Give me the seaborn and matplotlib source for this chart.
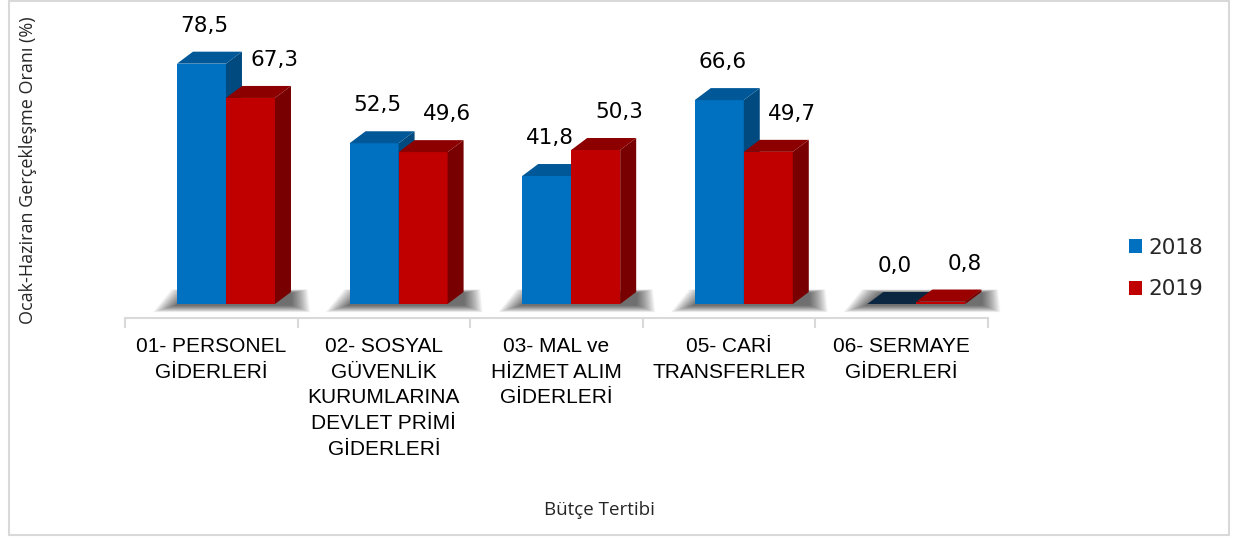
import matplotlib
matplotlib.use("Agg")
import matplotlib.pyplot as plt
from matplotlib.patches import Polygon, Patch, Rectangle
import seaborn as sns
import pandas as pd

# Bütçe tertibi kategorileri ve yıllara göre gerçekleşme oranları (%)
categories = [
    "01- PERSONEL\nGİDERLERİ",
    "02- SOSYAL\nGÜVENLİK\nKURUMLARINA\nDEVLET PRİMİ\nGİDERLERİ",
    "03- MAL ve\nHİZMET ALIM\nGİDERLERİ",
    "05- CARİ\nTRANSFERLER",
    "06- SERMAYE\nGİDERLERİ",
]
years = ["2018", "2019"]
values_2018 = [78.5, 52.5, 41.8, 66.6, 0.0]
values_2019 = [67.3, 49.6, 50.3, 49.7, 0.8]

df = pd.DataFrame({
    "kategori": categories * 2,
    "yil": [years[0]] * len(categories) + [years[1]] * len(categories),
    "oran": values_2018 + values_2019,
})

front = {"2018": "#0070C0", "2019": "#C00000"}
side = {"2018": "#004A80", "2019": "#780000"}
top = {"2018": "#005898", "2019": "#8C0000"}

sns.set_theme(style="white")
plt.rcParams["font.family"] = ["Liberation Sans", "DejaVu Sans"]

W, H = 1235, 540
fig = plt.figure(figsize=(W / 100, H / 100), dpi=100)
fig.patch.set_facecolor("white")

ax_left, ax_right, ax_bot, ax_top = 125, 988, 318, 30
ax = fig.add_axes([ax_left / W, 1 - ax_bot / H, (ax_right - ax_left) / W, (ax_bot - ax_top) / H])

xlim = (-0.585, 4.415)
ylim = (-4.575, 89.5)

sns.barplot(data=df, x="kategori", y="oran", hue="yil", palette=[front[y] for y in years],
            width=0.568, saturation=1, linewidth=0, ax=ax, legend=False, zorder=3)
ax.set_xlim(*xlim)
ax.set_ylim(*ylim)

# pixel -> data conversion for the 3D depth effect
px_x = (xlim[1] - xlim[0]) / (ax_right - ax_left)
px_y = (ylim[1] - ylim[0]) / (ax_bot - ax_top)
dx, dy = 16 * px_x, 12 * px_y

# soft floor shadow under each bar pair
pairs = list(zip(ax.containers[0].patches, ax.containers[1].patches))
for b1, b2 in pairs:
    x0 = b1.get_x()
    x1 = b2.get_x() + b2.get_width()
    n = 24
    for i in range(n):
        s = 24 * (1 - i / n)
        poly = [
            (x0 - s * px_x, 0 - (1 + s * 0.3) * px_y),
            (x1 + dx + s * 0.8 * px_x, 0 - (1 + s * 0.3) * px_y),
            (x1 + dx + s * 0.7 * px_x, dy - 1 * px_y + s * 0.15 * px_y),
            (x0 + dx - s * 0.9 * px_x, dy - 1 * px_y + s * 0.15 * px_y),
        ]
        ax.add_patch(Polygon(poly, closed=True, facecolor="black", alpha=0.03,
                             linewidth=0, zorder=1, clip_on=False))

# side and top faces, drawn series by series so the front series covers the back one
for ci, year in enumerate(years):
    for bar in ax.containers[ci].patches:
        bar.set_zorder(3 + ci * 3)
        x0 = bar.get_x()
        x1 = x0 + bar.get_width()
        h = bar.get_height()
        side_poly = [(x1, 0), (x1 + dx, dy), (x1 + dx, h + dy), (x1, h)]
        top_poly = [(x0, h), (x1, h), (x1 + dx, h + dy), (x0 + dx, h + dy)]
        ax.add_patch(Polygon(side_poly, closed=True, facecolor=side[year], linewidth=0,
                             zorder=3 + ci * 3 + 1, clip_on=False))
        top_col = top[year] if h > 1 else ("#0B2640" if year == "2018" else "#9A0000")
        ax.add_patch(Polygon(top_poly, closed=True, facecolor=top_col, linewidth=0,
                             zorder=3 + ci * 3 + 2, clip_on=False))

# value labels
label_dx = {"2018": 3, "2019": 24}
for ci, year in enumerate(years):
    for bar in ax.containers[ci].patches:
        h = bar.get_height()
        xc = bar.get_x() + bar.get_width() / 2
        ax.annotate(f"{h:.1f}".replace(".", ","), xy=(xc, h + dy), xytext=(label_dx[year], 26),
                    textcoords="offset pixels", ha="center", va="center",
                    fontsize=15.5, family=["DejaVu Sans"], color="black",
                    zorder=20, annotation_clip=False)

# axes styling
for sp in ["top", "right", "left"]:
    ax.spines[sp].set_visible(False)
ax.spines["bottom"].set_color("#D9D9D9")
ax.spines["bottom"].set_linewidth(1.5)
ax.set_yticks([])
ax.set_xticks([k - 0.585 for k in range(len(categories) + 1)])
ax.set_xticklabels([])
ax.tick_params(axis="x", which="major", direction="out", length=7, width=1.5,
               color="#D9D9D9", bottom=True)
ax.set_xticks([k - 0.085 for k in range(len(categories))], minor=True)
ax.set_xticklabels(categories, minor=True, fontsize=15, linespacing=1.45, color="black")
ax.tick_params(axis="x", which="minor", length=0, pad=13.5)
ax.set_xlabel("")
ax.set_ylabel("")

fig.text(28 / W, 1 - 170 / H, "Ocak-Haziran Gerçekleşme Oranı (%)", rotation=90,
         ha="center", va="center", fontsize=13, family=["Open Sans", "DejaVu Sans"])
fig.text(599 / W, 1 - 510 / H, "Bütçe Tertibi", ha="center", va="center",
         fontsize=13.5, family=["Open Sans", "DejaVu Sans"])

handles = [Patch(facecolor=front[y], edgecolor="none") for y in years]
fig.legend(handles, years, loc="center left", bbox_to_anchor=(1129 / W, 1 - 268.5 / H),
           frameon=False, handlelength=0.6, handleheight=0.6, handletextpad=0.3,
           labelspacing=1.0, borderpad=0, borderaxespad=0,
           prop={"family": "DejaVu Sans", "size": 15.5})

# chart area border
fig.patches.append(Rectangle((9 / W, 1 - 535 / H), 1220 / W, 534 / H, transform=fig.transFigure,
                             facecolor="none", edgecolor="#D9D9D9", linewidth=1.5))

fig.savefig("out.png", dpi=100)
